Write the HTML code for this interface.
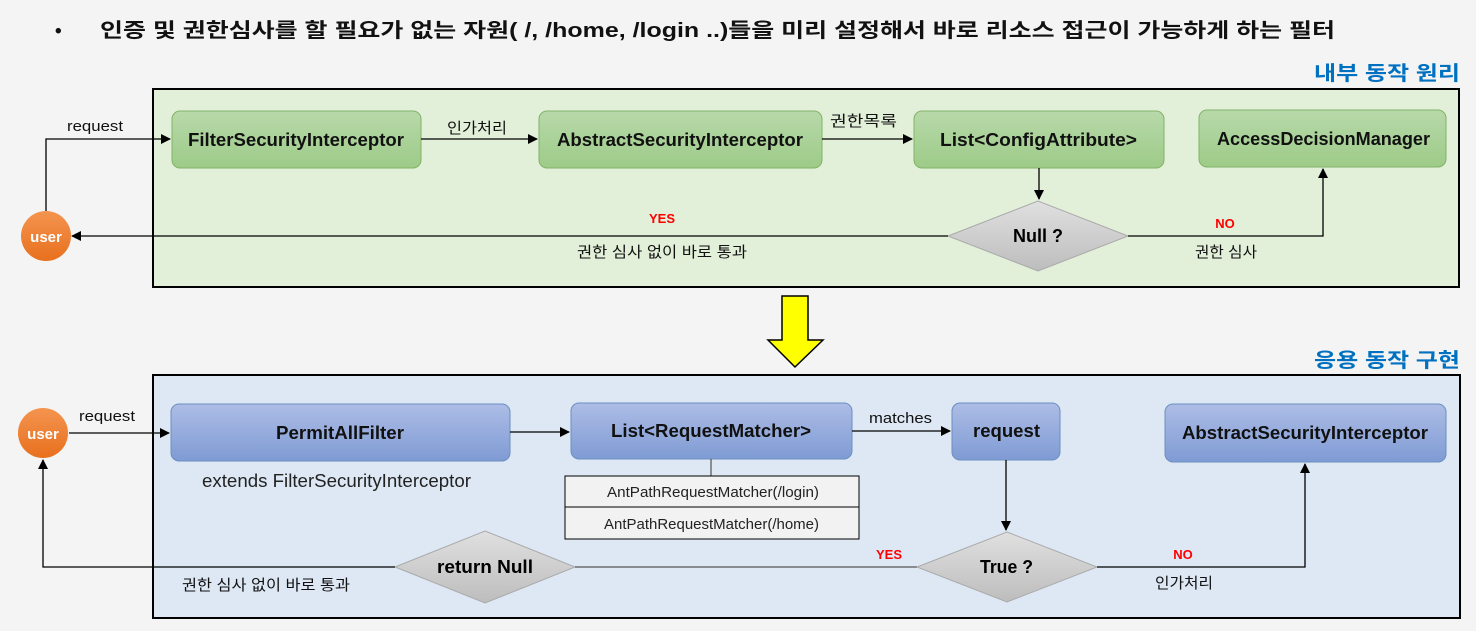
<!DOCTYPE html>
<html><head><meta charset="utf-8"><style>
html,body{margin:0;padding:0;background:#f4f4f4;}
svg{display:block;font-family:"Liberation Sans","Noto Sans CJK KR",sans-serif;}
</style></head><body>
<svg width="1476" height="631" xmlns="http://www.w3.org/2000/svg">
<defs>
<linearGradient id="g" x1="0" y1="0" x2="0" y2="1"><stop offset="0" stop-color="#b8d9aa"/><stop offset="1" stop-color="#9dcb88"/></linearGradient>
<linearGradient id="b" x1="0" y1="0" x2="0" y2="1"><stop offset="0" stop-color="#adbde6"/><stop offset="1" stop-color="#7f9bd4"/></linearGradient>
<linearGradient id="d" x1="0" y1="0" x2="0" y2="1"><stop offset="0" stop-color="#e0e0e0"/><stop offset="1" stop-color="#bdbdbd"/></linearGradient>
<linearGradient id="o" x1="0" y1="0" x2="0" y2="1"><stop offset="0" stop-color="#f4944f"/><stop offset="1" stop-color="#e8701e"/></linearGradient>
<marker id="a" markerWidth="10" markerHeight="10" refX="9" refY="5" orient="auto" markerUnits="userSpaceOnUse"><path d="M0,0 L10,5 L0,10 z" fill="#000"/></marker>
</defs>
<rect width="1476" height="631" fill="#f4f4f4"/>
<text x="55" y="37" font-size="19" font-weight="bold" fill="#111">•</text>
<text x="100" y="37" font-size="20" font-weight="bold" fill="#111" textLength="1235" lengthAdjust="spacingAndGlyphs">인증 및 권한심사를 할 필요가 없는 자원( /, /home, /login ..)들을 미리 설정해서 바로 리소스 접근이 가능하게 하는 필터</text>
<text x="1314" y="80" font-size="20" font-weight="bold" fill="#0070c0" textLength="146" lengthAdjust="spacingAndGlyphs">내부 동작 원리</text>
<text x="1314" y="367" font-size="20" font-weight="bold" fill="#0070c0" textLength="146" lengthAdjust="spacingAndGlyphs">응용 동작 구현</text>

<!-- top panel -->
<rect x="153" y="89" width="1306" height="198" fill="#e2efd9" stroke="#000" stroke-width="2"/>
<g stroke="#82b366" fill="url(#g)">
<rect x="172" y="111" width="249" height="57" rx="8"/>
<rect x="539" y="111" width="283" height="57" rx="8"/>
<rect x="914" y="111" width="250" height="57" rx="8"/>
<rect x="1199" y="110" width="247" height="57" rx="8"/>
</g>
<g font-size="18" font-weight="bold" fill="#111" lengthAdjust="spacingAndGlyphs">
<text x="188" y="146" textLength="216" lengthAdjust="spacingAndGlyphs">FilterSecurityInterceptor</text>
<text x="557" y="146" textLength="246" lengthAdjust="spacingAndGlyphs">AbstractSecurityInterceptor</text>
<text x="940" y="146" textLength="197" lengthAdjust="spacingAndGlyphs">List&lt;ConfigAttribute&gt;</text>
<text x="1217" y="145" textLength="213" lengthAdjust="spacingAndGlyphs">AccessDecisionManager</text>
</g>
<polygon points="948,236 1038,201 1128,236 1038,271" fill="url(#d)" stroke="#aaa"/>
<text x="1013" y="242" font-size="18" font-weight="bold" textLength="50" lengthAdjust="spacingAndGlyphs">Null ?</text>
<circle cx="46" cy="236" r="25" fill="url(#o)"/>
<text x="46" y="242" font-size="15" font-weight="bold" fill="#fff" text-anchor="middle">user</text>
<g stroke="#000" stroke-width="1.3" fill="none" marker-end="url(#a)">
<path d="M46,211 V139 H170"/>
<path d="M421,139 H537"/>
<path d="M822,139 H912"/>
<path d="M1039,168 V199"/>
<path d="M948,236 H72"/>
<path d="M1128,236 H1323 V169"/>
</g>
<g font-size="15" fill="#111">
<text x="67" y="131" textLength="56" lengthAdjust="spacingAndGlyphs">request</text>
<text x="447" y="133" textLength="60" lengthAdjust="spacingAndGlyphs">인가처리</text>
<text x="830" y="126" textLength="67" lengthAdjust="spacingAndGlyphs">권한목록</text>
<text x="577" y="257" textLength="170" lengthAdjust="spacingAndGlyphs">권한 심사 없이 바로 통과</text>
<text x="1195" y="257" textLength="62" lengthAdjust="spacingAndGlyphs">권한 심사</text>
</g>
<text x="662" y="223" font-size="13" font-weight="bold" fill="#f00" text-anchor="middle">YES</text>
<text x="1225" y="228" font-size="13" font-weight="bold" fill="#f00" text-anchor="middle">NO</text>

<!-- yellow arrow -->
<polygon points="782,296 808,296 808,340 823,340 795,367 768,340 782,340" fill="#ffff00" stroke="#000" stroke-width="1.5"/>

<!-- bottom panel -->
<rect x="153" y="375" width="1307" height="243" fill="#dde8f4" stroke="#000" stroke-width="2"/>
<g stroke="#6c8ebf" fill="url(#b)">
<rect x="171" y="404" width="339" height="57" rx="8"/>
<rect x="571" y="403" width="281" height="56" rx="8"/>
<rect x="952" y="403" width="108" height="57" rx="8"/>
<rect x="1165" y="404" width="281" height="58" rx="8"/>
</g>
<g font-size="18" font-weight="bold" fill="#111">
<text x="276" y="439" textLength="128" lengthAdjust="spacingAndGlyphs">PermitAllFilter</text>
<text x="611" y="437" textLength="200" lengthAdjust="spacingAndGlyphs">List&lt;RequestMatcher&gt;</text>
<text x="973" y="437" textLength="67" lengthAdjust="spacingAndGlyphs">request</text>
<text x="1182" y="439" textLength="246" lengthAdjust="spacingAndGlyphs">AbstractSecurityInterceptor</text>
</g>
<text x="202" y="487" font-size="18" fill="#222" textLength="269" lengthAdjust="spacingAndGlyphs">extends FilterSecurityInterceptor</text>
<line x1="711" y1="459" x2="711" y2="476" stroke="#333"/>
<rect x="565" y="476" width="294" height="63" fill="#f2f2f2" stroke="#000"/>
<line x1="565" y1="507" x2="859" y2="507" stroke="#000"/>
<text x="607" y="497" font-size="15" fill="#222" textLength="212" lengthAdjust="spacingAndGlyphs">AntPathRequestMatcher(/login)</text>
<text x="604" y="529" font-size="15" fill="#222" textLength="215" lengthAdjust="spacingAndGlyphs">AntPathRequestMatcher(/home)</text>
<polygon points="395,567 485,531 575,567 485,603" fill="url(#d)" stroke="#aaa"/>
<text x="437" y="573" font-size="18" font-weight="bold" textLength="96" lengthAdjust="spacingAndGlyphs">return Null</text>
<polygon points="917,567 1007,532 1097,567 1007,602" fill="url(#d)" stroke="#aaa"/>
<text x="980" y="573" font-size="18" font-weight="bold" textLength="53" lengthAdjust="spacingAndGlyphs">True ?</text>
<circle cx="43" cy="433" r="25" fill="url(#o)"/>
<text x="43" y="439" font-size="15" font-weight="bold" fill="#fff" text-anchor="middle">user</text>
<g stroke="#000" stroke-width="1.3" fill="none" marker-end="url(#a)">
<path d="M69,433 H169"/>
<path d="M510,432 H569"/>
<path d="M852,431 H950"/>
<path d="M1006,460 V530"/>
<path d="M1097,567 H1305 V464"/>
<path d="M395,567 H43 V460"/>
</g>
<line x1="575" y1="567" x2="917" y2="567" stroke="#555" stroke-width="1.3"/>
<g font-size="15" fill="#111">
<text x="79" y="421" textLength="56" lengthAdjust="spacingAndGlyphs">request</text>
<text x="869" y="423" textLength="63" lengthAdjust="spacingAndGlyphs">matches</text>
<text x="182" y="590" textLength="168" lengthAdjust="spacingAndGlyphs">권한 심사 없이 바로 통과</text>
<text x="1155" y="588" textLength="58" lengthAdjust="spacingAndGlyphs">인가처리</text>
</g>
<text x="889" y="559" font-size="13" font-weight="bold" fill="#f00" text-anchor="middle">YES</text>
<text x="1183" y="559" font-size="13" font-weight="bold" fill="#f00" text-anchor="middle">NO</text>
</svg>
</body></html>
